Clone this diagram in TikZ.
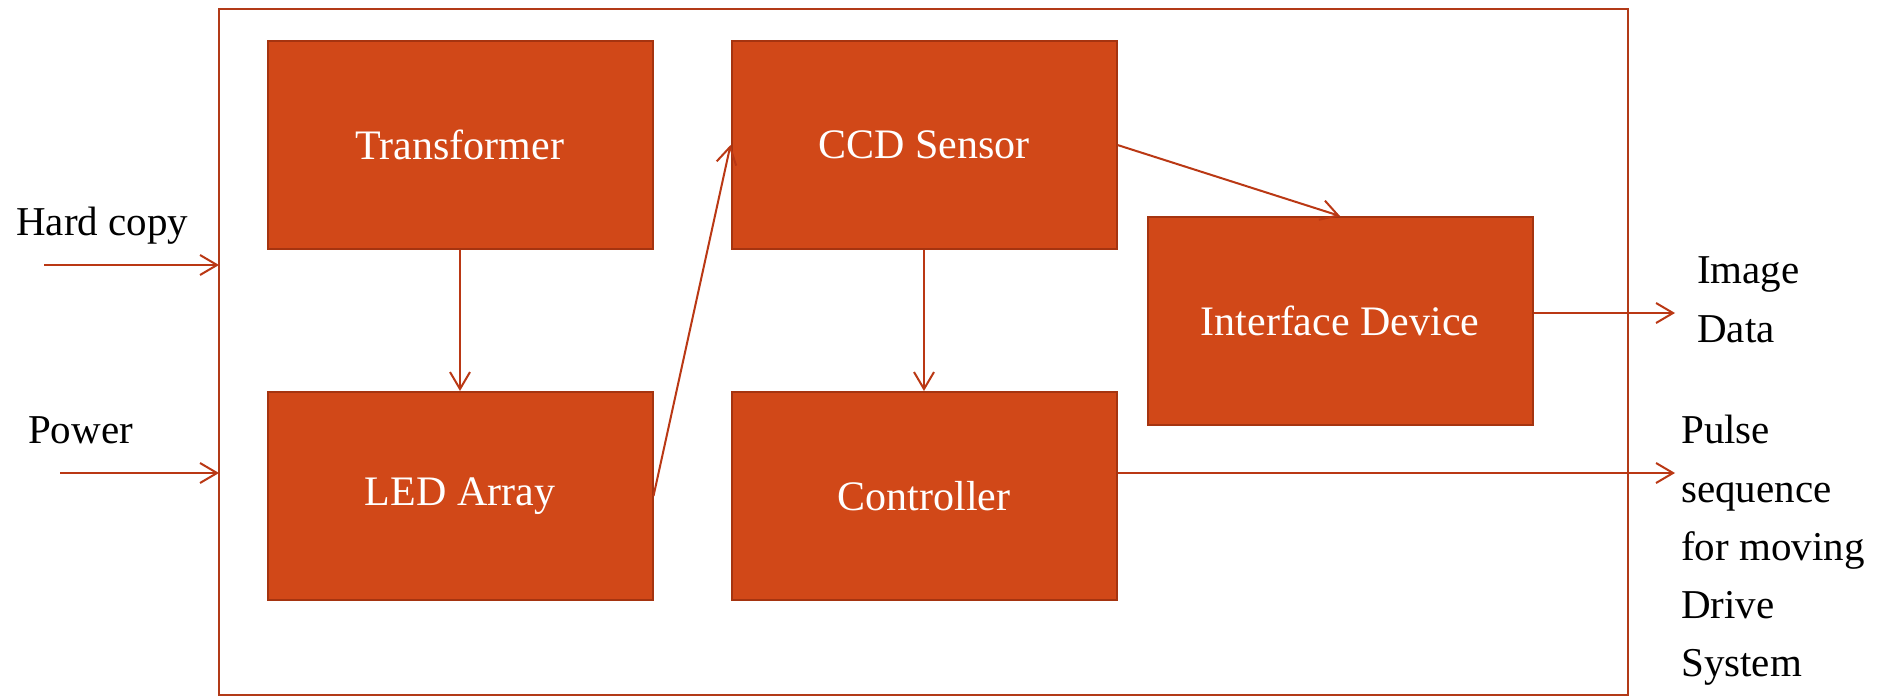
\documentclass[tikz,border=0pt]{standalone}
\usepackage{fontspec}
\setmainfont{Liberation Serif}
\usetikzlibrary{arrows.meta}
\definecolor{blockfill}{RGB}{209,72,24}
\definecolor{blockline}{RGB}{165,52,16}
\definecolor{wire}{RGB}{186,56,20}
\definecolor{frame}{RGB}{178,58,24}
\tikzset{
  blk/.style={draw=blockline, line width=2pt, fill=blockfill, text=white,
    minimum width=385pt, minimum height=208pt, inner sep=0pt,
    font=\fontsize{42}{50}\selectfont},
  wirearrow/.style={draw=wire, line width=2pt,
    -{Straight Barb[length=17pt, width=20pt, line width=2pt]}},
  lbl/.style={text=black, inner sep=0pt, font=\fontsize{41}{58}\selectfont}
}
\begin{document}
\begin{tikzpicture}[x=1pt, y=-1pt]
  \useasboundingbox (0,0) rectangle (1877,696);
  \fill[white] (0,0) rectangle (1877,696);

  % enclosing frame
  \draw[frame, line width=2.5pt] (219,9) rectangle (1628,695);

  % functional blocks
  \node[blk] (tr)  at (460,145)  {Transformer};
  \node[blk] (led) at (460,496)  {LED Array};
  \node[blk] (ccd) at (924,145)  {CCD Sensor};
  \node[blk] (ctl) at (924,496)  {Controller};
  \node[blk] (ifd) at (1340,321) {Interface Device};

  % external inputs and outputs
  \coordinate (hcin)  at (44,265);
  \coordinate (hcend) at (219,265);
  \coordinate (pwin)  at (60,473);
  \coordinate (pwend) at (219,473);
  \coordinate (imgout) at (1675,313);
  \coordinate (pulout) at (1675,473);

  \node[lbl, anchor=base west] (hc) at (16,235) {Hard copy};
  \node[lbl, anchor=base west] (pw) at (28,443) {Power};
  \node[lbl, anchor=base west] (im1) at (1697,283) {Image};
  \node[lbl, anchor=base west] (im2) at (1697,342) {Data};
  \node[lbl, anchor=base west] (pu1) at (1681,443) {Pulse};
  \node[lbl, anchor=base west] (pu2) at (1681,502) {sequence};
  \node[lbl, anchor=base west] (pu3) at (1681,560) {for moving};
  \node[lbl, anchor=base west] (pu4) at (1681,618) {Drive};
  \node[lbl, anchor=base west] (pu5) at (1681,676) {System};

  % connectors
  \draw[wirearrow] (hcin) -- (hcend);
  \draw[wirearrow] (pwin) -- (pwend);
  \draw[wirearrow] (tr.south) -- (led.north);
  \draw[wirearrow] (ccd.south) -- (ctl.north);
  \draw[wirearrow] (led.east) -- (ccd.west);
  \draw[wirearrow] (ccd.east) -- (ifd.north);
  \draw[wirearrow] (ifd.east |- imgout) -- (imgout);
  \draw[wirearrow] (ctl.east |- pulout) -- (pulout);
\end{tikzpicture}
\end{document}
